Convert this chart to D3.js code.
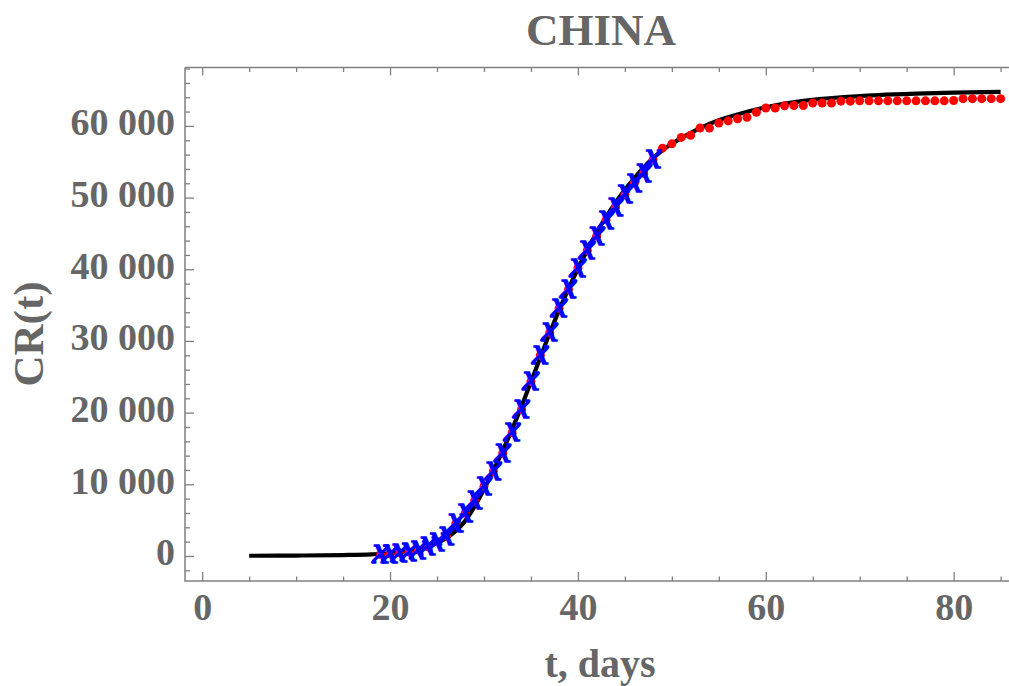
<!DOCTYPE html>
<html>
<head>
<meta charset="utf-8">
<script src="https://cdn.jsdelivr.net/npm/d3@7"></script>
<style>
  html, body { margin: 0; padding: 0; background: #fff; }
  svg { display: block; }
  text { font-family: "Liberation Serif", "Times New Roman", serif; font-weight: bold; fill: #666666; }
</style>
</head>
<body>
<svg id="chart" width="1009" height="686"></svg>
<script>
// ---- data ----
const days = [19,20,21,22,23,24,25,26,27,28,29,30,31,32,33,34,35,36,37,38,39,40,41,42,43,44,45,46,47,48,
  49,50,51,52,53,54,55,56,57,58,59,60,61,62,63,64,65,66,67,68,69,70,71,72,73,74,75,76,77,78,79,80,81,82,83,84,85];
const cases = [200,290,440,570,830,1290,1980,2740,4520,5970,7710,9690,11790,14380,17210,20440,24320,28020,31160,34550,
  37200,40170,42640,44650,46900,48700,50400,52000,53400,55300,
  56900,57500,58400,58700,59700,59700,60400,60700,61000,61200,61900,62500,62500,62800,62850,62850,63200,63200,63200,
  63450,63450,63500,63500,63500,63500,63500,63500,63500,63500,63500,63500,63550,63800,63800,63800,63800,63800];
const fitEndDay = 48; // blue markers: data used for fitting
const curveDays = [5,10,15,18,20,22,24,25,26,27,28,29,30,31,32,33,34,35,36,37,38,39,40,41,42,43,44,45,46,47,48,
  49,50,51,52,53,55,57,60,64,68,72,76,80,85];
const curveValues = [30,60,130,230,380,700,1300,1800,2500,3500,4900,6900,9300,11900,14700,17700,20900,24300,27700,31100,
  34300,37300,40100,42700,45100,47300,49300,51100,52700,54200,55500,
  56600,57500,58300,59000,59700,60800,61600,62600,63500,64000,64300,64500,64650,64750];
const xMajorTicks = [0,20,40,60,80];
const xMinorTicks = [5,10,15,25,30,35,45,50,55,65,70,75,85];
const yMajorTicks = [0,10000,20000,30000,40000,50000,60000];
const yMinorTicks = [-2000,2000,4000,6000,8000,12000,14000,16000,18000,22000,24000,26000,28000,32000,34000,36000,38000,
  42000,44000,46000,48000,52000,54000,56000,58000,62000,64000,66000,68000];
const titleText = "CHINA";
const xLabel = "t, days";
const yLabel = "CR(t)";

// ---- layout ----
const W = 1009, H = 686;
const L = 185, R = 1010, T = 67.5, B = 581;
const svg = d3.select("#chart");
svg.append("rect").attr("width", W).attr("height", H).attr("fill", "#fff");

const x = d3.scaleLinear().domain([-1.83, 86]).range([L, R]);
const y = d3.scaleLinear().domain([-3490, 68150]).range([B, T]);

const frameColor = "#808080";
const fmt = v => d3.format(",")(v).replace(/,/g, " ");

function styleAxis(g) {
  g.select(".domain").remove();
  g.selectAll(".tick line").attr("stroke", frameColor).attr("stroke-width", 1.3);
}
// bottom
svg.append("g").attr("transform", `translate(0,${B})`)
  .call(d3.axisBottom(x).tickValues(xMajorTicks).tickSize(-9).tickFormat(d3.format("d")))
  .call(styleAxis)
  .call(g => g.selectAll("text").attr("y", 39).attr("dy", 0).style("font-size", "38px").attr("fill", "#666"));
svg.append("g").attr("transform", `translate(0,${B})`)
  .call(d3.axisBottom(x).tickValues(xMinorTicks).tickSize(-4.5).tickFormat(""))
  .call(styleAxis);
// top
svg.append("g").attr("transform", `translate(0,${T})`)
  .call(d3.axisTop(x).tickValues(xMajorTicks).tickSize(-8).tickFormat(""))
  .call(styleAxis);
svg.append("g").attr("transform", `translate(0,${T})`)
  .call(d3.axisTop(x).tickValues(xMinorTicks).tickSize(-4.5).tickFormat(""))
  .call(styleAxis);
// left
svg.append("g").attr("transform", `translate(${L},0)`)
  .call(d3.axisLeft(y).tickValues(yMajorTicks).tickSize(-9).tickFormat(fmt))
  .call(styleAxis)
  .call(g => g.selectAll("text").attr("x", -10).attr("dy", 0).attr("y", 9).style("font-size", "38px").attr("fill", "#666"));
svg.append("g").attr("transform", `translate(${L},0)`)
  .call(d3.axisLeft(y).tickValues(yMinorTicks).tickSize(-5).tickFormat(""))
  .call(styleAxis);

// frame lines
svg.append("path")
  .attr("d", `M${L},${T}H${R}M${L},${T}V${B}H${R}`)
  .attr("fill", "none").attr("stroke", frameColor).attr("stroke-width", 1.5);

svg.append("clipPath").attr("id", "clip")
  .append("rect").attr("x", L).attr("y", T).attr("width", R - L).attr("height", B - T);
const plot = svg.append("g").attr("clip-path", "url(#clip)");

// fitted curve
const line = d3.line().x(d => x(d[0])).y(d => y(d[1])).curve(d3.curveMonotoneX);
plot.append("path")
  .datum(curveDays.map((d, i) => [d, curveValues[i]]))
  .attr("d", line)
  .attr("fill", "none").attr("stroke", "#000").attr("stroke-width", 4.2);

// red data points
const pts = days.map((d, i) => ({ t: d, v: cases[i] }));
plot.selectAll("circle.red").data(pts).join("circle")
  .attr("class", "red")
  .attr("cx", d => x(d.t)).attr("cy", d => y(d.v)).attr("r", 4.5)
  .attr("fill", "#ff0000");

// blue markers (fit data)
plot.selectAll("text.blue").data(pts.filter(d => d.t <= fitEndDay)).join("text")
  .attr("class", "blue")
  .attr("x", d => x(d.t)).attr("y", d => y(d.v))
  .attr("dy", "0.23em")
  .attr("text-anchor", "middle")
  .style("font-family", "'Liberation Serif', serif")
  .style("font-size", "38px").style("font-style", "italic").style("font-weight", "normal")
  .style("fill", "#0000ff").style("stroke", "#0000ff").style("stroke-width", 1.6)
  .text("x");

// title and axis labels
svg.append("text").attr("x", 601).attr("y", 45).attr("text-anchor", "middle")
  .style("font-size", "45px").text(titleText);
svg.append("text").attr("x", 600).attr("y", 677).attr("text-anchor", "middle")
  .style("font-size", "40px").text(xLabel);
svg.append("text").attr("transform", "translate(43,334) rotate(-90)").attr("text-anchor", "middle")
  .style("font-size", "43px").text(yLabel);
</script>
</body>
</html>
